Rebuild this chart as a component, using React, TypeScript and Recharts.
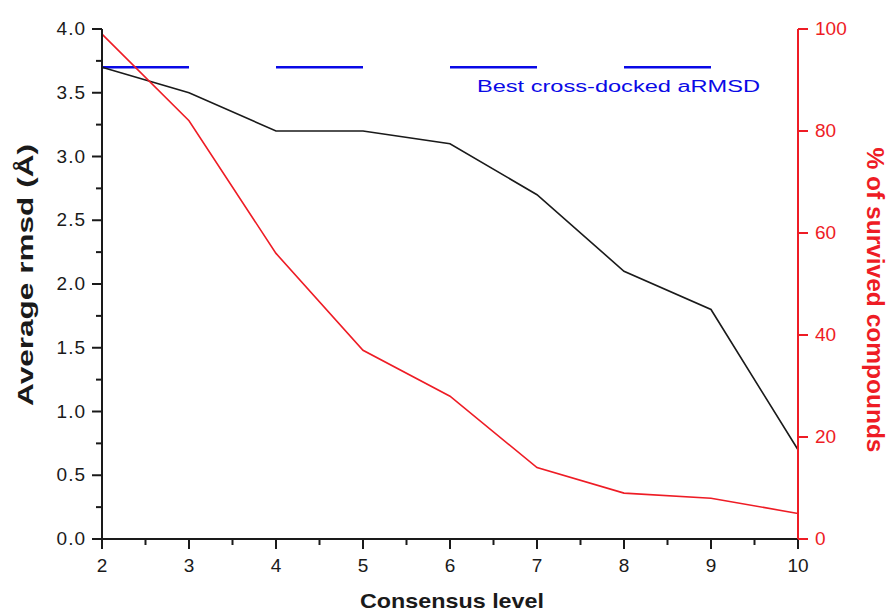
import {
  ComposedChart,
  Line,
  XAxis,
  YAxis,
} from "recharts";

const CONSENSUS = [2, 3, 4, 5, 6, 7, 8, 9, 10];
const AVG_RMSD = [3.7, 3.5, 3.2, 3.2, 3.1, 2.7, 2.1, 1.8, 0.7];
const SURVIVED = [99, 82, 56, 37, 28, 14, 9, 8, 5];
const BEST_RMSD = 3.7;

const X_TICKS = [2, 2.5, 3, 3.5, 4, 4.5, 5, 5.5, 6, 6.5, 7, 7.5, 8, 8.5, 9, 9.5, 10];
const LEFT_TICKS = [0, 0.25, 0.5, 0.75, 1, 1.25, 1.5, 1.75, 2, 2.25, 2.5, 2.75, 3, 3.25, 3.5, 3.75, 4];
const RIGHT_TICKS = [0, 20, 40, 60, 80, 100];

const DATA = CONSENSUS.map((c, i) => ({
  level: c,
  rmsd: AVG_RMSD[i],
  survived: SURVIVED[i],
  best: BEST_RMSD,
}));

const W = 887;
const H = 614;
const M = { top: 29, right: 0, bottom: 0, left: 0 };
const LEFT_W = 102;
const RIGHT_W = 89;
const BOTTOM_H = 75;
const PLOT_W = W - LEFT_W - RIGHT_W;

const FONT = "Arial, 'Liberation Sans', Helvetica, sans-serif";
const RED = "#ee1c25";
const BLUE = "#0a0ae6";
const INK = "#1a1a1a";

function XTick(props: any) {
  const { x, y, payload } = props;
  const major = Number.isInteger(payload.value);
  return (
    <g>
      <line x1={x} x2={x} y1={y} y2={y + (major ? 10 : 6)} stroke={INK} strokeWidth={2} />
      {major && (
        <text x={x} y={y + 33} textAnchor="middle" fontSize={19} fill={INK} fontFamily={FONT}>
          {payload.value}
        </text>
      )}
    </g>
  );
}

function LeftTick(props: any) {
  const { x, y, payload } = props;
  const major = Math.abs(payload.value * 2 - Math.round(payload.value * 2)) < 1e-6;
  return (
    <g>
      <line x1={x - (major ? 10 : 6)} x2={x} y1={y} y2={y} stroke={INK} strokeWidth={2} />
      {major && (
        <text
          x={x - 16}
          y={y + 6}
          textAnchor="end"
          fontSize={19}
          letterSpacing={1}
          fill={INK}
          fontFamily={FONT}
        >
          {payload.value.toFixed(1)}
        </text>
      )}
    </g>
  );
}

function RightTick(props: any) {
  const { x, y, payload } = props;
  return (
    <g>
      <line x1={x} x2={x + 10} y1={y} y2={y} stroke={RED} strokeWidth={2} />
      <text x={x + 17} y={y + 6} textAnchor="start" fontSize={19} fill={RED} fontFamily={FONT}>
        {payload.value}
      </text>
    </g>
  );
}

export default function App() {
  return (
    <div style={{ position: "absolute", left: 0, top: 0, width: W, height: H, background: "#fff" }}>
      <ComposedChart width={W} height={H} data={DATA} margin={M}>
        <XAxis
          dataKey="level"
          type="number"
          domain={[2, 10]}
          ticks={X_TICKS}
          interval={0}
          height={BOTTOM_H}
          tickSize={0}
          tickMargin={0}
          tickLine={false}
          axisLine={{ stroke: INK, strokeWidth: 2 }}
          tick={<XTick />}
          label={{
            content: () => (
              <text
                x={LEFT_W + PLOT_W / 2 + 2}
                y={608}
                textAnchor="middle"
                fontSize={21}
                fontWeight="bold"
                fill={INK}
                fontFamily={FONT}
                textLength={184}
                lengthAdjust="spacingAndGlyphs"
              >
                Consensus level
              </text>
            ),
          }}
        />
        <XAxis
          xAxisId="top"
          dataKey="level"
          type="number"
          orientation="top"
          domain={[2, 10]}
          height={0}
          tick={false}
          tickLine={false}
          axisLine={{ stroke: INK, strokeWidth: 2 }}
        />
        <YAxis
          yAxisId="left"
          domain={[0, 4]}
          ticks={LEFT_TICKS}
          interval={0}
          width={LEFT_W}
          tickSize={0}
          tickMargin={0}
          tickLine={false}
          axisLine={{ stroke: INK, strokeWidth: 2 }}
          tick={<LeftTick />}
          label={{
            content: () => (
              <text
                x={0}
                y={0}
                transform={`translate(33, 275) rotate(-90)`}
                textAnchor="middle"
                fontSize={22}
                fontWeight="bold"
                fill={INK}
                fontFamily={FONT}
                textLength={262}
                lengthAdjust="spacingAndGlyphs"
              >
                Average rmsd (Å)
              </text>
            ),
          }}
        />
        <YAxis
          yAxisId="right"
          orientation="right"
          domain={[0, 100]}
          ticks={RIGHT_TICKS}
          interval={0}
          width={RIGHT_W}
          tickSize={0}
          tickMargin={0}
          tickLine={false}
          axisLine={{ stroke: RED, strokeWidth: 2 }}
          tick={<RightTick />}
          label={{
            content: () => (
              <text
                x={0}
                y={0}
                transform={`translate(867, 300) rotate(90)`}
                textAnchor="middle"
                fontSize={23}
                fontWeight="bold"
                fill={RED}
                fontFamily={FONT}
                textLength={305}
                lengthAdjust="spacingAndGlyphs"
              >
                % of survived compounds
              </text>
            ),
          }}
        />
        <Line
          yAxisId="left"
          dataKey="best"
          stroke={BLUE}
          strokeWidth={2.5}
          strokeDasharray={`${PLOT_W / 8} ${PLOT_W / 8}`}
          dot={false}
          activeDot={false}
          isAnimationActive={false}
        />
        <Line
          yAxisId="left"
          dataKey="rmsd"
          stroke={INK}
          strokeWidth={1.6}
          dot={false}
          activeDot={false}
          isAnimationActive={false}
        />
        <Line
          yAxisId="right"
          dataKey="survived"
          stroke={RED}
          strokeWidth={1.6}
          dot={false}
          activeDot={false}
          isAnimationActive={false}
        />
        <text
          x={477}
          y={92}
          fontSize={16}
          fill={BLUE}
          fontFamily={FONT}
          textLength={283}
          lengthAdjust="spacingAndGlyphs"
        >
          Best cross-docked aRMSD
        </text>
      </ComposedChart>
    </div>
  );
}
